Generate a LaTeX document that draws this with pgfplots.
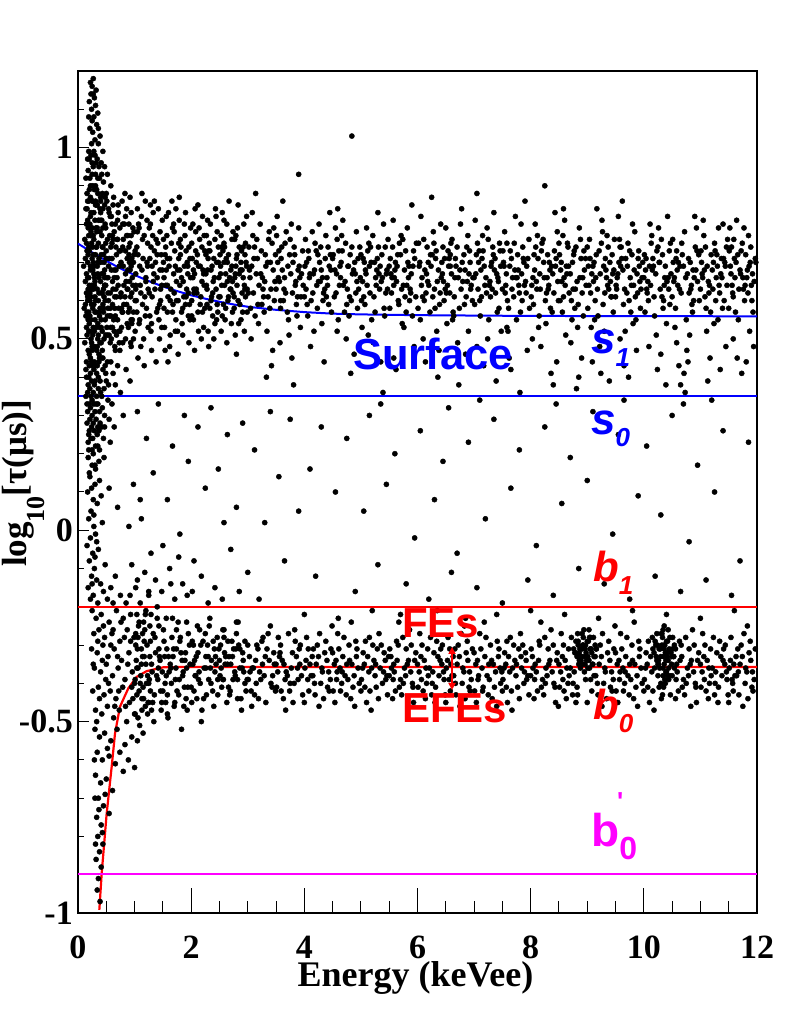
\documentclass[border=0pt]{standalone}
\usepackage{fontspec}
\setmainfont{Liberation Serif}
\newfontfamily\hv{Liberation Sans}
\usepackage{pgfplots}
\pgfplotsset{compat=1.18}
\usetikzlibrary{arrows.meta}
\definecolor{mag}{RGB}{255,0,255}
\definecolor{rootblue}{RGB}{0,0,255}
\definecolor{rootred}{RGB}{255,0,0}
\pgfplotsset{scat/.style={only marks, mark=*, mark size=2.6pt, color=black, mark options={draw=none, fill=black}}}
\begin{document}
\begin{tikzpicture}
\path[use as bounding box] (-78pt,-108pt) rectangle (711pt,913pt);
\begin{axis}[
  at={(0pt,0pt)}, anchor=south west,
  width=679pt, height=842pt, scale only axis,
  xmin=0, xmax=12, ymin=-1, ymax=1.2,
  axis line style={line width=1.1pt},
  tick pos=left, tick align=inside,
  xtick={0,2,4,6,8,10,12}, xticklabels={0,2,4,6,8,10,12},
  ytick={-1,-0.5,0,0.5,1}, yticklabels={-1,-0.5,0,0.5,1},
  minor xtick={0.5,1,1.5,2.5,3,3.5,4.5,5,5.5,6.5,7,7.5,8.5,9,9.5,10.5,11,11.5},
  minor ytick={-0.9,-0.8,-0.7,-0.6,-0.4,-0.3,-0.2,-0.1,0.1,0.2,0.3,0.4,0.6,0.7,0.8,0.9,1.1},
  major tick length=11pt, minor tick length=6.5pt,
  tick style={line width=1pt, black},
  x tick style={/pgfplots/major tick length=25pt, /pgfplots/minor tick length=12.5pt},
  ticklabel style={font=\fontsize{34}{34}\selectfont\bfseries},
  xticklabel style={anchor=base, yshift=-45pt},
  yticklabel style={anchor=east, inner sep=0pt, xshift=-5pt},
]
% low-energy column
\addplot[scat] table {
0.22 1.17
0.25 1.16
0.27 1.14
0.20 1.12
0.31 1.11
0.24 1.10
0.28 1.08
0.33 1.06
0.21 1.05
0.26 1.04
0.30 1.02
0.36 1.01
0.19 0.99
0.23 0.98
0.34 0.97
0.41 0.96
0.27 0.95
0.18 0.94
0.31 0.93
0.38 0.92
0.45 0.91
0.22 0.90
0.29 0.89
0.35 0.88
0.52 0.93
0.48 0.87
0.26 0.86
0.16 0.88
0.40 0.86
0.33 0.85
0.44 0.99
0.39 1.03
0.29 1.13
0.35 1.09
0.58 0.90
0.63 0.87
0.21 0.92
0.17 0.86
0.47 0.95
0.25 0.96
0.14 0.84
0.37 0.71
0.62 0.63
0.21 0.52
0.88 0.77
0.45 0.58
0.29 0.66
0.73 0.49
0.17 0.81
0.54 0.69
0.96 0.55
0.33 0.74
0.68 0.61
0.25 0.47
0.49 0.79
0.81 0.64
0.19 0.57
0.41 0.72
0.59 0.50
0.92 0.68
0.17 0.60
0.40 0.83
0.65 0.48
0.24 0.75
0.91 0.65
0.48 0.80
0.32 0.53
0.76 0.70
0.20 0.46
0.57 0.62
0.99 0.78
0.36 0.51
0.71 0.85
0.28 0.67
0.52 0.56
0.84 0.73
0.22 0.82
0.44 0.59
0.62 0.76
0.95 0.54
0.12 0.76
0.35 0.54
0.60 0.80
0.19 0.66
0.86 0.59
0.43 0.47
0.27 0.72
0.71 0.83
0.15 0.62
0.52 0.51
0.94 0.69
0.31 0.86
0.66 0.56
0.23 0.78
0.47 0.64
0.79 0.49
0.17 0.70
0.39 0.81
0.57 0.58
0.90 0.74
0.19 0.52
0.42 0.67
0.67 0.74
0.26 0.86
0.93 0.49
0.50 0.71
0.34 0.79
0.78 0.57
0.22 0.68
0.59 0.82
1.01 0.60
0.38 0.45
0.73 0.73
0.30 0.55
0.54 0.84
0.86 0.77
0.24 0.63
0.46 0.50
0.64 0.66
0.97 0.79
0.10 0.69
0.33 0.78
0.58 0.56
0.17 0.61
0.84 0.82
0.41 0.53
0.25 0.48
0.69 0.76
0.13 0.59
0.50 0.73
0.92 0.87
0.29 0.64
0.64 0.52
0.21 0.80
0.45 0.67
0.77 0.58
0.15 0.75
0.37 0.46
0.55 0.71
0.88 0.63
0.16 0.57
0.39 0.49
0.64 0.68
0.23 0.79
0.90 0.72
0.47 0.64
0.31 0.85
0.75 0.61
0.19 0.77
0.56 0.56
0.98 0.50
0.35 0.70
0.70 0.81
0.27 0.63
0.51 0.53
0.83 0.88
0.21 0.60
0.43 0.74
0.61 0.65
0.94 0.83
0.20 0.73
0.43 0.62
0.68 0.51
0.27 0.70
0.94 0.55
0.51 0.86
0.35 0.67
0.79 0.80
0.23 0.50
0.60 0.75
1.02 0.64
0.39 0.58
0.74 0.47
0.31 0.72
0.55 0.83
0.87 0.54
0.25 0.79
0.47 0.66
0.65 0.61
0.98 0.57
0.13 0.65
0.36 0.81
0.61 0.77
0.20 0.54
0.87 0.63
0.44 0.74
0.28 0.59
0.72 0.52
0.16 0.84
0.53 0.66
0.95 0.71
0.32 0.79
0.67 0.68
0.24 0.49
0.48 0.60
0.80 0.76
0.18 0.55
0.40 0.87
0.58 0.53
0.91 0.70
0.18 0.72
0.26 0.58
0.34 0.63
0.42 0.77
0.15 0.67
0.30 0.81
0.38 0.56
0.22 0.69
0.46 0.61
0.28 0.76
0.35 0.50
0.19 0.86
0.24 0.64
0.40 0.70
0.32 0.57
0.44 0.84
0.27 0.53
0.16 0.73
0.37 0.66
0.21 0.62
0.49 0.75
0.29 0.48
0.33 0.89
0.25 0.71
0.41 0.55
0.18 0.79
0.36 0.60
0.23 0.83
0.47 0.68
0.30 0.65
0.14 0.56
0.39 0.78
0.26 0.74
0.43 0.52
0.20 0.64
0.34 0.85
0.28 0.69
0.45 0.57
0.22 0.77
0.31 0.60
0.15 0.44
0.22 0.41
0.31 0.43
0.18 0.38
0.27 0.36
0.36 0.40
0.44 0.42
0.20 0.33
0.25 0.30
0.33 0.35
0.16 0.28
0.29 0.26
0.38 0.31
0.23 0.24
0.19 0.21
0.35 0.22
0.42 0.27
0.50 0.39
0.58 0.44
0.53 0.34
0.26 0.43
0.14 0.35
0.21 0.37
0.30 0.39
0.40 0.36
0.17 0.31
0.24 0.27
0.32 0.29
0.28 0.33
0.46 0.37
0.62 0.41
0.19 0.25
0.34 0.25
0.27 0.20
0.22 0.45
0.37 0.44
0.48 0.43
0.66 0.38
0.55 0.29
0.43 0.32
0.15 0.40
0.25 0.34
0.39 0.28
0.18 0.23
0.31 0.22
0.45 0.24
0.70 0.43
0.60 0.33
0.21 0.29
0.36 0.37
0.28 0.42
0.16 0.33
0.33 0.41
0.24 0.39
0.41 0.45
0.52 0.44
0.20 0.43
0.30 0.31
0.26 0.24
0.35 0.33
0.47 0.30
0.64 0.27
0.75 0.36
0.85 0.42
0.57 0.23
0.80 0.30
0.92 0.39
0.23 0.35
0.38 0.21
0.29 0.44
0.18 0.19
0.25 0.17
0.21 0.14
0.30 0.12
0.17 0.10
0.27 0.08
0.23 0.05
0.34 0.07
0.19 0.03
0.28 0.01
0.22 -0.02
0.31 -0.01
0.16 -0.04
0.26 -0.06
0.36 -0.05
0.20 -0.08
0.29 -0.10
0.24 -0.12
0.33 -0.13
0.18 -0.15
0.40 -0.14
0.27 -0.17
0.22 -0.18
0.35 -0.19
0.45 -0.16
0.52 -0.18
0.31 0.16
0.38 0.13
0.24 0.11
0.41 0.09
0.20 0.15
0.28 0.04
0.33 -0.03
0.43 0.02
0.48 -0.09
0.25 -0.14
0.58 -0.15
0.66 -0.12
0.62 -0.19
0.75 -0.17
0.85 -0.19
0.37 0.18
0.55 0.11
0.46 0.19
0.70 0.06
0.90 0.01
1.05 -0.13
1.25 -0.16
1.10 0.08
0.30 -0.07
0.25 -0.21
0.32 -0.23
0.41 -0.22
0.55 -0.24
0.68 -0.21
0.80 -0.23
0.93 -0.22
1.08 -0.24
1.20 -0.21
0.28 -0.27
0.37 -0.26
0.47 -0.28
0.60 -0.27
0.74 -0.29
0.87 -0.26
0.99 -0.28
1.14 -0.27
1.27 -0.25
0.24 -0.31
0.34 -0.32
0.44 -0.30
0.53 -0.33
0.64 -0.31
0.77 -0.34
0.90 -0.32
1.02 -0.30
1.17 -0.33
0.29 -0.36
0.40 -0.37
0.50 -0.35
0.61 -0.38
0.71 -0.36
0.83 -0.39
0.96 -0.37
1.10 -0.40
1.23 -0.38
0.26 -0.42
0.36 -0.41
0.46 -0.43
0.57 -0.42
0.67 -0.44
0.79 -0.41
0.91 -0.45
1.04 -0.43
1.19 -0.46
0.31 -0.47
0.42 -0.48
0.52 -0.46
0.63 -0.49
0.73 -0.47
0.86 -0.50
1.00 -0.48
1.13 -0.47
0.33 -0.50
0.45 -0.25
0.58 -0.30
0.70 -0.33
0.82 -0.28
0.95 -0.41
1.06 -0.36
1.28 -0.42
0.38 -0.44
0.49 -0.39
0.65 -0.46
0.76 -0.24
0.88 -0.35
0.97 -0.44
1.12 -0.31
1.25 -0.45
0.27 -0.35
0.35 -0.29
0.43 -0.34
0.54 -0.40
0.62 -0.26
0.72 -0.42
0.84 -0.46
0.93 -0.29
1.01 -0.39
1.16 -0.44
1.30 -0.35
0.30 -0.52
0.38 -0.54
0.47 -0.53
0.58 -0.55
0.69 -0.52
0.83 -0.56
0.95 -0.54
0.34 -0.58
0.43 -0.60
0.55 -0.59
0.66 -0.61
0.80 -0.63
1.00 -0.62
0.31 -0.64
0.40 -0.66
0.50 -0.65
0.61 -0.68
0.36 -0.70
0.45 -0.72
0.55 -0.74
0.33 -0.75
0.41 -0.77
0.35 -0.80
0.44 -0.82
0.38 -0.84
0.32 -0.86
0.41 -0.88
0.36 -0.91
0.34 -0.94
0.39 -0.97
0.30 -0.70
0.29 -0.60
0.52 -0.57
0.74 -0.58
0.89 -0.60
0.37 -0.73
0.48 -0.69
0.31 -0.82
0.43 -0.79
1.05 -0.55
};
% low-energy column, further events
\addplot[scat] table {
0.11 0.58
0.13 0.71
0.15 0.80
0.18 0.63
0.20 0.89
0.23 0.55
0.26 0.68
0.28 0.83
0.30 0.61
0.32 0.74
0.35 0.92
0.37 0.57
0.40 0.65
0.42 0.81
0.45 0.72
0.48 0.55
0.50 0.88
0.53 0.62
0.56 0.77
0.59 0.68
0.62 0.85
0.65 0.58
0.68 0.72
0.71 0.64
0.74 0.79
0.77 0.53
0.80 0.69
0.83 0.61
0.86 0.84
0.89 0.57
0.92 0.75
0.95 0.62
0.98 0.70
0.12 0.49
0.14 0.92
0.17 0.66
0.19 0.74
0.22 0.87
0.24 0.59
0.27 0.77
0.29 0.52
0.31 0.90
0.34 0.69
0.36 0.75
0.39 0.84
0.41 0.62
0.44 0.79
0.46 0.70
0.49 0.64
0.52 0.76
0.54 0.60
0.57 0.82
0.60 0.71
0.63 0.55
0.66 0.80
0.69 0.66
0.72 0.58
0.75 0.73
0.78 0.86
0.81 0.59
0.84 0.67
0.87 0.71
0.90 0.80
0.93 0.61
0.96 0.66
0.99 0.72
0.16 0.51
0.21 0.56
0.25 0.93
0.33 0.47
0.38 0.53
0.43 0.88
0.47 0.85
0.51 0.66
0.55 0.51
0.58 0.74
0.61 0.59
0.64 0.78
0.67 0.63
0.70 0.76
0.73 0.69
0.76 0.62
0.79 0.74
0.82 0.80
0.85 0.65
0.88 0.68
0.91 0.58
0.94 0.77
0.97 0.64
0.15 0.53
0.18 0.47
0.23 0.61
0.26 0.51
0.30 0.57
0.34 0.48
0.37 0.62
0.41 0.49
0.45 0.63
0.49 0.51
0.53 0.58
0.57 0.49
0.61 0.53
0.66 0.47
0.70 0.55
0.74 0.52
0.79 0.57
0.84 0.50
0.89 0.53
0.94 0.48
0.20 0.97
0.24 1.01
0.28 0.99
0.32 0.96
0.37 0.95
0.42 0.93
0.17 0.97
0.26 0.90
0.30 0.98
0.19 1.08
0.23 1.14
0.27 1.18
0.32 1.15
0.36 1.05
0.25 1.07
0.14 0.42
0.19 0.40
0.24 0.44
0.29 0.38
0.34 0.43
0.39 0.39
0.44 0.45
0.49 0.41
0.54 0.38
0.17 0.36
0.22 0.32
0.27 0.28
0.32 0.33
0.37 0.26
0.42 0.35
0.47 0.27
0.20 0.26
0.25 0.21
0.30 0.17
0.35 0.27
1.02 -0.27
1.08 -0.42
1.12 -0.35
1.17 -0.29
1.21 -0.40
1.27 -0.33
1.32 -0.45
1.36 -0.28
1.41 -0.39
1.44 -0.33
1.49 -0.37
1.52 -0.29
1.55 -0.45
1.60 -0.33
1.65 -0.40
1.69 -0.31
1.73 -0.36
1.78 -0.43
1.81 -0.28
1.85 -0.38
1.90 -0.32
1.94 -0.41
1.98 -0.35
2.02 -0.29
2.05 -0.42
2.09 -0.33
2.13 -0.39
2.17 -0.30
2.22 -0.44
2.26 -0.36
2.30 -0.33
2.35 -0.40
2.39 -0.29
2.42 -0.37
2.47 -0.43
2.52 -0.30
2.56 -0.39
2.60 -0.35
2.65 -0.29
2.69 -0.42
2.73 -0.33
2.78 -0.38
2.82 -0.44
2.86 -0.31
2.90 -0.36
2.95 -0.29
2.99 -0.39
1.06 -0.49
1.15 -0.53
1.23 -0.48
1.34 -0.50
1.47 -0.47
1.58 -0.48
1.71 -0.45
1.87 -0.46
1.04 -0.22
1.16 -0.24
1.29 -0.22
1.43 -0.25
1.56 -0.23
1.74 -0.26
1.92 -0.24
2.11 -0.25
2.33 -0.23
2.58 -0.26
2.80 -0.24
};
% upper band 1-3 keV
\addplot[scat] table {
1.02 0.63
1.17 0.77
1.09 0.55
1.22 0.70
1.05 0.84
1.14 0.59
1.20 0.66
1.11 0.48
1.01 0.73
1.18 0.61
1.07 0.80
1.24 0.53
1.13 0.68
1.04 0.57
1.19 0.86
1.10 0.64
1.23 0.75
1.06 0.45
1.15 0.71
1.02 0.67
1.21 0.58
1.08 0.79
1.16 0.50
1.03 0.60
1.12 0.82
1.24 0.63
1.06 0.72
1.19 0.56
1.09 0.69
1.14 0.76
1.01 0.52
1.22 0.81
1.11 0.62
1.17 0.43
1.05 0.78
1.20 0.65
1.08 0.54
1.13 0.88
1.23 0.69
1.04 0.74
1.27 0.71
1.41 0.58
1.33 0.83
1.48 0.64
1.29 0.52
1.38 0.76
1.45 0.68
1.31 0.61
1.26 0.79
1.43 0.55
1.35 0.73
1.49 0.81
1.30 0.47
1.40 0.66
1.46 0.60
1.28 0.85
1.37 0.70
1.44 0.50
1.32 0.77
1.47 0.72
1.26 0.62
1.39 0.57
1.34 0.67
1.42 0.84
1.29 0.74
1.48 0.53
1.36 0.63
1.45 0.78
1.31 0.69
1.27 0.56
1.41 0.75
1.38 0.44
1.33 0.65
1.49 0.68
1.28 0.80
1.44 0.59
1.35 0.86
1.46 0.63
1.40 0.72
1.30 0.54
1.52 0.66
1.67 0.79
1.58 0.57
1.72 0.69
1.55 0.74
1.63 0.51
1.70 0.62
1.60 0.83
1.51 0.70
1.68 0.59
1.57 0.77
1.74 0.65
1.62 0.48
1.54 0.72
1.69 0.80
1.59 0.61
1.73 0.55
1.56 0.68
1.65 0.75
1.52 0.58
1.71 0.73
1.58 0.64
1.66 0.86
1.53 0.53
1.62 0.71
1.74 0.60
1.56 0.82
1.69 0.67
1.59 0.44
1.64 0.63
1.51 0.76
1.72 0.52
1.61 0.69
1.67 0.57
1.55 0.64
1.70 0.78
1.58 0.71
1.63 0.60
1.73 0.84
1.54 0.47
1.77 0.60
1.91 0.73
1.83 0.66
1.98 0.55
1.79 0.81
1.88 0.69
1.95 0.62
1.81 0.76
1.76 0.52
1.93 0.70
1.85 0.58
1.99 0.79
1.80 0.64
1.90 0.83
1.96 0.49
1.78 0.71
1.87 0.61
1.94 0.67
1.82 0.74
1.97 0.59
1.76 0.68
1.89 0.77
1.84 0.54
1.92 0.63
1.79 0.87
1.98 0.71
1.86 0.65
1.95 0.56
1.81 0.72
1.77 0.46
1.91 0.61
1.88 0.80
1.83 0.57
1.99 0.66
1.78 0.75
1.94 0.69
1.85 0.51
1.96 0.74
1.90 0.59
1.80 0.68
2.02 0.71
2.16 0.59
2.08 0.78
2.23 0.64
2.04 0.55
2.13 0.69
2.20 0.82
2.10 0.62
2.01 0.75
2.18 0.50
2.06 0.67
2.24 0.73
2.12 0.57
2.03 0.80
2.19 0.65
2.09 0.70
2.22 0.53
2.05 0.63
2.15 0.76
2.01 0.60
2.21 0.68
2.07 0.84
2.17 0.61
2.03 0.66
2.11 0.72
2.24 0.58
2.06 0.47
2.19 0.74
2.09 0.63
2.14 0.79
2.01 0.56
2.22 0.67
2.12 0.85
2.16 0.69
2.05 0.62
2.20 0.57
2.08 0.73
2.13 0.52
2.23 0.77
2.04 0.68
2.27 0.64
2.42 0.76
2.33 0.58
2.48 0.70
2.29 0.81
2.38 0.62
2.45 0.55
2.31 0.73
2.26 0.67
2.43 0.84
2.35 0.60
2.49 0.66
2.30 0.52
2.40 0.71
2.46 0.78
2.28 0.59
2.37 0.69
2.44 0.63
2.32 0.75
2.47 0.57
2.26 0.72
2.39 0.65
2.34 0.80
2.42 0.54
2.29 0.68
2.48 0.74
2.36 0.61
2.45 0.70
2.31 0.48
2.27 0.77
2.41 0.66
2.38 0.56
2.33 0.73
2.49 0.61
2.28 0.63
2.44 0.82
2.35 0.68
2.46 0.59
2.40 0.50
2.30 0.71
2.52 0.69
2.66 0.61
2.58 0.75
2.73 0.57
2.54 0.64
2.63 0.80
2.70 0.68
2.60 0.55
2.51 0.72
2.68 0.66
2.57 0.59
2.74 0.78
2.62 0.71
2.53 0.52
2.69 0.63
2.59 0.74
2.72 0.69
2.55 0.83
2.65 0.60
2.52 0.67
2.71 0.54
2.58 0.70
2.64 0.65
2.53 0.77
2.61 0.58
2.74 0.62
2.56 0.73
2.67 0.86
2.59 0.64
2.63 0.49
2.51 0.61
2.72 0.76
2.61 0.67
2.66 0.72
2.55 0.56
2.70 0.63
2.58 0.81
2.64 0.70
2.73 0.65
2.54 0.74
2.77 0.66
2.92 0.74
2.83 0.60
2.98 0.69
2.79 0.77
2.88 0.55
2.95 0.63
2.81 0.72
2.76 0.58
2.93 0.80
2.85 0.67
2.99 0.57
2.80 0.71
2.90 0.62
2.96 0.75
2.78 0.51
2.87 0.68
2.94 0.64
2.82 0.79
2.97 0.70
2.76 0.61
2.89 0.73
2.84 0.54
2.92 0.66
2.79 0.69
2.98 0.82
2.86 0.59
2.95 0.72
2.81 0.64
2.77 0.76
2.91 0.57
2.88 0.70
2.83 0.85
2.99 0.63
2.78 0.67
2.94 0.52
2.85 0.74
2.96 0.61
2.90 0.68
2.80 0.46
};
% upper band 3-7.5 keV
\addplot[scat] table {
3.04 0.66
3.31 0.72
3.18 0.59
3.45 0.68
3.09 0.77
3.27 0.63
3.40 0.70
3.13 0.56
3.02 0.74
3.36 0.61
3.22 0.80
3.48 0.65
3.07 0.69
3.29 0.57
3.43 0.75
3.15 0.67
3.34 0.52
3.01 0.62
3.24 0.73
3.47 0.60
3.11 0.71
3.38 0.78
3.20 0.64
3.05 0.58
3.32 0.69
3.44 0.47
3.16 0.76
3.26 0.66
3.41 0.63
3.08 0.83
3.35 0.70
3.19 0.54
3.49 0.72
3.03 0.68
3.28 0.61
3.12 0.74
3.39 0.58
3.23 0.67
3.46 0.79
3.06 0.50
3.30 0.65
3.17 0.71
3.42 0.43
3.10 0.62
3.37 0.76
3.25 0.59
3.14 0.88
3.33 0.40
3.53 0.70
3.79 0.62
3.66 0.75
3.92 0.66
3.58 0.58
3.74 0.72
3.88 0.61
3.61 0.68
3.51 0.77
3.84 0.64
3.70 0.57
3.97 0.73
3.56 0.65
3.77 0.80
3.91 0.69
3.63 0.60
3.82 0.74
3.50 0.63
3.72 0.55
3.95 0.67
3.59 0.71
3.86 0.59
3.68 0.78
3.54 0.66
3.80 0.70
3.93 0.53
3.64 0.63
3.75 0.76
3.89 0.68
3.57 0.49
3.83 0.72
3.67 0.62
3.98 0.64
3.52 0.82
3.76 0.67
3.60 0.74
3.87 0.56
3.71 0.69
3.94 0.61
3.55 0.73
3.78 0.45
3.65 0.66
3.90 0.79
3.58 0.60
3.85 0.65
3.73 0.51
3.62 0.86
3.81 0.38
4.03 0.63
4.29 0.74
4.16 0.67
4.43 0.59
4.08 0.71
4.25 0.65
4.38 0.77
4.12 0.60
4.01 0.69
4.34 0.62
4.21 0.73
4.47 0.68
4.06 0.56
4.27 0.70
4.41 0.64
4.14 0.78
4.32 0.66
4.00 0.61
4.23 0.58
4.46 0.72
4.10 0.67
4.36 0.63
4.19 0.75
4.04 0.70
4.31 0.54
4.44 0.69
4.15 0.62
4.26 0.80
4.40 0.66
4.07 0.73
4.33 0.60
4.18 0.68
4.48 0.57
4.02 0.76
4.28 0.65
4.11 0.48
4.37 0.71
4.22 0.64
4.45 0.83
4.05 0.59
4.30 0.68
4.17 0.52
4.42 0.74
4.09 0.66
4.35 0.44
4.24 0.72
3.90 0.93
4.39 0.61
4.54 0.68
4.80 0.61
4.67 0.73
4.93 0.65
4.58 0.76
4.75 0.59
4.89 0.70
4.62 0.64
4.51 0.72
4.85 0.67
4.71 0.57
4.98 0.74
4.56 0.62
4.78 0.69
4.92 0.78
4.64 0.66
4.83 0.60
4.50 0.71
4.73 0.75
4.96 0.63
4.60 0.55
4.87 0.68
4.69 0.64
4.55 0.79
4.81 0.72
4.94 0.58
4.65 0.70
4.76 0.63
4.90 0.67
4.58 0.52
4.84 0.74
4.68 0.81
4.99 0.66
4.53 0.61
4.77 0.69
4.61 0.73
4.88 0.46
4.72 0.65
4.95 0.71
4.57 0.67
4.79 0.56
4.66 0.77
4.91 0.62
4.59 0.84
4.84 1.03
4.74 0.50
4.63 0.69
4.82 0.41
5.03 0.65
5.29 0.71
5.16 0.62
5.43 0.74
5.08 0.68
5.25 0.57
5.38 0.66
5.12 0.73
5.01 0.60
5.34 0.69
5.21 0.77
5.47 0.63
5.06 0.70
5.27 0.64
5.41 0.58
5.14 0.75
5.32 0.67
5.00 0.72
5.23 0.61
5.46 0.68
5.10 0.79
5.36 0.65
5.19 0.55
5.04 0.71
5.31 0.74
5.44 0.62
5.15 0.69
5.26 0.66
5.40 0.80
5.07 0.59
5.33 0.63
5.18 0.70
5.48 0.76
5.02 0.53
5.28 0.68
5.11 0.64
5.37 0.72
5.22 0.49
5.45 0.67
5.05 0.61
5.30 0.83
5.17 0.74
5.42 0.56
5.09 0.67
5.35 0.44
5.24 0.70
5.13 0.51
5.39 0.36
5.53 0.67
5.79 0.73
5.66 0.60
5.92 0.69
5.58 0.64
5.74 0.76
5.88 0.62
5.61 0.70
5.51 0.58
5.84 0.66
5.70 0.72
5.97 0.61
5.56 0.74
5.77 0.68
5.91 0.56
5.63 0.65
5.82 0.79
5.50 0.69
5.72 0.63
5.95 0.71
5.59 0.66
5.86 0.60
5.68 0.75
5.54 0.62
5.80 0.57
5.93 0.73
5.64 0.69
5.75 0.64
5.89 0.67
5.57 0.81
5.83 0.70
5.67 0.59
5.98 0.75
5.52 0.71
5.76 0.53
5.60 0.68
5.87 0.63
5.71 0.77
5.94 0.48
5.55 0.66
5.78 0.61
5.65 0.72
5.90 0.85
5.58 0.45
5.85 0.69
5.73 0.54
5.62 0.42
5.81 0.64
6.04 0.70
6.30 0.63
6.17 0.74
6.44 0.67
6.09 0.61
6.26 0.72
6.39 0.59
6.13 0.68
6.02 0.75
6.35 0.65
6.22 0.57
6.48 0.71
6.07 0.64
6.28 0.78
6.42 0.66
6.15 0.62
6.33 0.73
6.01 0.58
6.24 0.69
6.47 0.60
6.11 0.76
6.37 0.68
6.20 0.64
6.05 0.55
6.32 0.71
6.45 0.74
6.16 0.67
6.27 0.61
6.41 0.80
6.08 0.66
6.34 0.52
6.19 0.70
6.49 0.63
6.03 0.69
6.29 0.75
6.12 0.60
6.38 0.47
6.23 0.72
6.46 0.65
6.06 0.82
6.31 0.58
6.18 0.65
6.43 0.70
6.10 0.50
6.36 0.40
6.25 0.87
6.14 0.44
6.40 0.62
6.53 0.64
6.79 0.70
6.66 0.66
6.92 0.73
6.58 0.69
6.74 0.58
6.88 0.65
6.61 0.76
6.51 0.62
6.84 0.68
6.70 0.74
6.97 0.60
6.56 0.71
6.77 0.63
6.91 0.67
6.63 0.57
6.82 0.72
6.50 0.79
6.72 0.66
6.95 0.64
6.59 0.75
6.86 0.61
6.68 0.69
6.54 0.73
6.80 0.65
6.93 0.70
6.64 0.56
6.75 0.68
6.89 0.77
6.57 0.62
6.83 0.59
6.67 0.71
6.98 0.66
6.52 0.54
6.76 0.80
6.60 0.67
6.87 0.74
6.71 0.49
6.94 0.63
6.55 0.69
6.78 0.84
6.65 0.61
6.90 0.52
6.58 0.72
6.85 0.46
6.73 0.38
6.62 0.55
7.05 0.88
7.03 0.67
7.29 0.61
7.16 0.73
7.43 0.65
7.08 0.70
7.25 0.76
7.38 0.62
7.12 0.68
7.01 0.59
7.34 0.72
7.21 0.66
7.47 0.69
7.06 0.75
7.27 0.64
7.41 0.57
7.14 0.71
7.32 0.63
7.00 0.66
7.23 0.79
7.46 0.73
7.10 0.60
7.36 0.68
7.19 0.64
7.04 0.72
7.31 0.70
7.44 0.58
7.15 0.77
7.26 0.55
7.40 0.67
7.07 0.63
7.33 0.74
7.18 0.69
7.48 0.52
7.02 0.81
7.28 0.65
7.11 0.56
7.37 0.71
7.22 0.62
7.45 0.75
7.05 0.48
7.30 0.69
7.17 0.43
7.42 0.66
7.09 0.73
7.35 0.83
7.24 0.50
7.13 0.61
7.39 0.39
};
% upper band 7.5-12 keV
\addplot[scat] table {
7.53 0.69
7.79 0.64
7.66 0.71
7.92 0.62
7.58 0.75
7.74 0.66
7.88 0.70
7.61 0.58
7.51 0.73
7.84 0.67
7.70 0.61
7.97 0.76
7.56 0.64
7.77 0.72
7.91 0.65
7.63 0.69
7.82 0.57
7.50 0.63
7.72 0.68
7.95 0.71
7.59 0.60
7.86 0.74
7.68 0.66
7.54 0.78
7.80 0.62
7.93 0.69
7.64 0.73
7.75 0.55
7.89 0.64
7.57 0.67
7.83 0.80
7.67 0.63
7.98 0.58
7.52 0.70
7.76 0.66
7.60 0.52
7.87 0.71
7.71 0.75
7.94 0.47
7.55 0.62
7.78 0.68
7.65 0.42
7.90 0.86
7.58 0.53
7.85 0.60
7.73 0.82
7.62 0.45
7.81 0.36
8.04 0.66
8.30 0.72
8.17 0.63
8.44 0.69
8.09 0.74
8.26 0.60
8.39 0.67
8.13 0.71
8.02 0.64
8.35 0.58
8.22 0.76
8.48 0.65
8.07 0.68
8.28 0.62
8.42 0.73
8.15 0.56
8.33 0.70
8.01 0.61
8.24 0.66
8.47 0.78
8.11 0.63
8.37 0.69
8.20 0.75
8.05 0.59
8.32 0.64
8.45 0.71
8.16 0.67
8.27 0.54
8.41 0.62
8.08 0.80
8.34 0.68
8.19 0.73
8.49 0.60
8.03 0.50
8.29 0.66
8.12 0.77
8.38 0.57
8.23 0.70
8.46 0.44
8.06 0.72
8.31 0.63
8.18 0.48
8.43 0.83
8.10 0.65
8.36 0.41
8.25 0.90
8.14 0.53
8.40 0.38
8.53 0.68
8.79 0.63
8.66 0.74
8.92 0.66
8.58 0.61
8.74 0.70
8.88 0.76
8.61 0.64
8.51 0.72
8.84 0.59
8.70 0.67
8.97 0.71
8.56 0.57
8.77 0.73
8.91 0.62
8.63 0.69
8.82 0.65
8.50 0.75
8.72 0.60
8.95 0.68
8.59 0.66
8.86 0.79
8.68 0.62
8.54 0.70
8.80 0.74
8.93 0.56
8.64 0.67
8.75 0.63
8.89 0.71
8.57 0.77
8.83 0.53
8.67 0.69
8.98 0.64
8.52 0.60
8.76 0.72
8.60 0.81
8.87 0.66
8.71 0.49
8.94 0.73
8.55 0.65
8.78 0.58
8.65 0.75
8.90 0.45
8.58 0.84
8.85 0.40
8.73 0.55
8.62 0.51
8.81 0.37
9.03 0.64
9.29 0.69
9.16 0.72
9.43 0.61
9.08 0.67
9.25 0.75
9.38 0.63
9.12 0.70
9.01 0.58
9.34 0.66
9.21 0.73
9.47 0.68
9.06 0.62
9.27 0.78
9.41 0.65
9.14 0.60
9.32 0.71
9.00 0.74
9.23 0.67
9.46 0.57
9.10 0.69
9.36 0.64
9.19 0.56
9.04 0.76
9.31 0.62
9.44 0.72
9.15 0.66
9.26 0.81
9.40 0.70
9.07 0.53
9.33 0.68
9.18 0.63
9.48 0.76
9.02 0.69
9.28 0.59
9.11 0.65
9.37 0.74
9.22 0.48
9.45 0.67
9.05 0.71
9.30 0.52
9.17 0.84
9.42 0.61
9.09 0.44
9.35 0.77
9.24 0.41
9.13 0.55
9.39 0.39
9.53 0.66
9.79 0.72
9.66 0.63
9.92 0.69
9.58 0.74
9.74 0.60
9.88 0.67
9.61 0.71
9.51 0.64
9.84 0.78
9.70 0.62
9.97 0.66
9.56 0.70
9.77 0.57
9.91 0.73
9.63 0.68
9.82 0.64
9.50 0.61
9.72 0.75
9.95 0.63
9.59 0.69
9.86 0.55
9.68 0.71
9.54 0.67
9.80 0.80
9.93 0.65
9.64 0.59
9.75 0.73
9.89 0.62
9.57 0.76
9.83 0.68
9.67 0.52
9.98 0.70
9.52 0.63
9.76 0.66
9.60 0.74
9.87 0.47
9.71 0.69
9.94 0.58
9.55 0.82
9.78 0.64
9.65 0.43
9.90 0.71
9.58 0.50
9.85 0.61
9.73 0.40
9.62 0.86
9.81 0.54
10.03 0.68
10.29 0.63
10.16 0.71
10.43 0.66
10.08 0.60
10.25 0.74
10.38 0.69
10.12 0.64
10.01 0.72
10.34 0.58
10.21 0.67
10.47 0.75
10.06 0.62
10.27 0.70
10.41 0.65
10.14 0.77
10.32 0.61
10.00 0.66
10.23 0.73
10.46 0.59
10.10 0.69
10.36 0.64
10.19 0.56
10.04 0.71
10.31 0.76
10.44 0.63
10.15 0.68
10.26 0.79
10.40 0.54
10.07 0.65
10.33 0.72
10.18 0.61
10.48 0.67
10.02 0.57
10.28 0.70
10.11 0.80
10.37 0.66
10.22 0.51
10.45 0.73
10.05 0.63
10.30 0.46
10.17 0.69
10.42 0.82
10.09 0.48
10.35 0.60
10.24 0.42
10.13 0.75
10.39 0.38
10.53 0.65
10.79 0.71
10.66 0.62
10.92 0.68
10.58 0.73
10.74 0.66
10.88 0.60
10.61 0.70
10.51 0.76
10.84 0.64
10.70 0.69
10.97 0.72
10.56 0.58
10.77 0.67
10.91 0.74
10.63 0.63
10.82 0.70
10.50 0.61
10.72 0.78
10.95 0.65
10.59 0.68
10.86 0.57
10.68 0.72
10.54 0.66
10.80 0.62
10.93 0.79
10.64 0.69
10.75 0.55
10.89 0.66
10.57 0.71
10.83 0.63
10.67 0.75
10.98 0.60
10.52 0.70
10.76 0.47
10.60 0.64
10.87 0.68
10.71 0.41
10.94 0.73
10.55 0.53
10.78 0.44
10.65 0.38
10.90 0.82
10.58 0.49
10.85 0.59
10.73 0.36
10.62 0.43
10.81 0.51
11.03 0.67
11.29 0.72
11.16 0.64
11.43 0.70
11.08 0.61
11.25 0.75
11.38 0.66
11.12 0.69
11.01 0.73
11.34 0.62
11.21 0.68
11.47 0.64
11.06 0.77
11.27 0.60
11.41 0.71
11.14 0.65
11.32 0.79
11.00 0.63
11.23 0.70
11.46 0.74
11.10 0.58
11.36 0.67
11.19 0.72
11.04 0.66
11.31 0.55
11.44 0.69
11.15 0.62
11.26 0.73
11.40 0.80
11.07 0.68
11.33 0.64
11.18 0.57
11.48 0.76
11.02 0.70
11.28 0.66
11.11 0.52
11.37 0.71
11.22 0.63
11.45 0.48
11.05 0.81
11.30 0.69
11.17 0.45
11.42 0.60
11.09 0.74
11.35 0.42
11.24 0.54
11.13 0.39
11.39 0.58
11.53 0.69
11.79 0.64
11.66 0.72
11.92 0.67
11.58 0.61
11.74 0.75
11.88 0.70
11.61 0.66
11.51 0.73
11.84 0.62
11.70 0.68
11.97 0.71
11.56 0.64
11.77 0.79
11.91 0.60
11.63 0.70
11.82 0.66
11.50 0.58
11.72 0.73
11.95 0.65
11.59 0.76
11.86 0.69
11.68 0.63
11.54 0.67
11.80 0.72
11.93 0.57
11.64 0.81
11.75 0.66
11.89 0.74
11.57 0.62
11.83 0.68
11.67 0.55
11.98 0.70
11.52 0.79
11.76 0.63
11.60 0.71
11.87 0.52
11.71 0.67
11.94 0.48
11.55 0.74
11.78 0.60
11.65 0.45
11.90 0.64
11.58 0.50
11.85 0.77
11.73 0.41
11.62 0.57
11.81 0.44
};
% bulk band 1-6.5 keV
\addplot[scat] table {
1.03 -0.34
1.28 -0.29
1.15 -0.41
1.42 -0.36
1.07 -0.25
1.24 -0.45
1.37 -0.32
1.11 -0.38
1.01 -0.48
1.33 -0.27
1.20 -0.35
1.46 -0.42
1.05 -0.31
1.26 -0.39
1.40 -0.23
1.13 -0.44
1.31 -0.37
1.00 -0.40
1.22 -0.30
1.45 -0.34
1.09 -0.51
1.35 -0.43
1.18 -0.26
1.04 -0.36
1.30 -0.47
1.43 -0.31
1.14 -0.33
1.25 -0.40
1.39 -0.38
1.06 -0.28
1.48 -0.45
1.19 -0.22
1.53 -0.33
1.79 -0.39
1.66 -0.28
1.92 -0.36
1.58 -0.43
1.74 -0.31
1.88 -0.41
1.61 -0.37
1.51 -0.26
1.84 -0.34
1.70 -0.46
1.97 -0.30
1.56 -0.38
1.77 -0.24
1.91 -0.44
1.63 -0.35
1.82 -0.32
1.50 -0.42
1.72 -0.39
1.95 -0.27
1.59 -0.49
1.86 -0.37
1.68 -0.33
1.54 -0.40
1.80 -0.29
1.93 -0.47
1.64 -0.36
1.75 -0.42
1.89 -0.34
1.57 -0.31
1.83 -0.52
1.67 -0.23
2.03 -0.35
2.29 -0.30
2.16 -0.40
2.43 -0.33
2.08 -0.38
2.25 -0.27
2.38 -0.42
2.12 -0.32
2.01 -0.45
2.34 -0.36
2.21 -0.29
2.47 -0.39
2.06 -0.34
2.27 -0.43
2.41 -0.31
2.14 -0.37
2.32 -0.25
2.00 -0.41
2.23 -0.36
2.46 -0.28
2.10 -0.44
2.36 -0.34
2.19 -0.47
2.04 -0.30
2.31 -0.39
2.44 -0.35
2.15 -0.26
2.26 -0.33
2.40 -0.46
2.07 -0.38
2.49 -0.31
2.18 -0.50
2.53 -0.36
2.79 -0.31
2.66 -0.41
2.92 -0.34
2.58 -0.28
2.74 -0.39
2.88 -0.44
2.61 -0.33
2.51 -0.38
2.84 -0.30
2.70 -0.35
2.97 -0.42
2.56 -0.26
2.77 -0.37
2.91 -0.32
2.63 -0.45
2.82 -0.39
2.50 -0.34
2.72 -0.29
2.95 -0.40
2.59 -0.32
2.86 -0.36
2.68 -0.43
2.54 -0.41
2.80 -0.27
2.93 -0.37
2.64 -0.35
2.75 -0.31
2.89 -0.47
2.57 -0.39
2.83 -0.24
2.67 -0.33
3.03 -0.33
3.29 -0.38
3.16 -0.30
3.43 -0.41
3.08 -0.36
3.25 -0.29
3.38 -0.34
3.12 -0.43
3.01 -0.39
3.34 -0.31
3.21 -0.37
3.47 -0.35
3.06 -0.42
3.27 -0.28
3.41 -0.40
3.14 -0.34
3.32 -0.45
3.00 -0.30
3.23 -0.39
3.46 -0.32
3.10 -0.36
3.36 -0.27
3.19 -0.44
3.04 -0.37
3.31 -0.33
3.44 -0.38
3.15 -0.40
3.26 -0.35
3.40 -0.25
3.07 -0.46
3.49 -0.42
3.18 -0.31
3.53 -0.37
3.79 -0.32
3.66 -0.39
3.92 -0.35
3.58 -0.30
3.74 -0.42
3.88 -0.36
3.61 -0.34
3.51 -0.41
3.84 -0.29
3.70 -0.38
3.97 -0.43
3.56 -0.33
3.77 -0.36
3.91 -0.31
3.63 -0.44
3.82 -0.40
3.50 -0.35
3.72 -0.27
3.95 -0.38
3.59 -0.42
3.86 -0.33
3.68 -0.37
3.54 -0.28
3.80 -0.45
3.93 -0.30
3.64 -0.35
3.75 -0.40
3.89 -0.39
3.57 -0.32
3.83 -0.26
3.67 -0.47
4.03 -0.34
4.29 -0.40
4.16 -0.31
4.43 -0.37
4.08 -0.42
4.25 -0.33
4.38 -0.29
4.12 -0.38
4.01 -0.36
4.34 -0.44
4.21 -0.35
4.47 -0.31
4.06 -0.39
4.27 -0.27
4.41 -0.41
4.14 -0.33
4.32 -0.37
4.00 -0.45
4.23 -0.30
4.46 -0.39
4.10 -0.35
4.36 -0.32
4.19 -0.43
4.04 -0.28
4.31 -0.36
4.44 -0.42
4.15 -0.38
4.26 -0.46
4.40 -0.34
4.07 -0.31
4.49 -0.25
4.18 -0.40
4.53 -0.35
4.79 -0.30
4.66 -0.40
4.92 -0.33
4.58 -0.37
4.74 -0.43
4.88 -0.38
4.61 -0.31
4.51 -0.42
4.84 -0.35
4.70 -0.28
4.97 -0.40
4.56 -0.34
4.77 -0.39
4.91 -0.29
4.63 -0.36
4.82 -0.44
4.50 -0.32
4.72 -0.38
4.95 -0.36
4.59 -0.27
4.86 -0.41
4.68 -0.33
4.54 -0.45
4.80 -0.34
4.93 -0.31
4.64 -0.42
4.75 -0.35
4.89 -0.46
4.57 -0.39
4.83 -0.24
4.67 -0.37
5.03 -0.36
5.29 -0.31
5.16 -0.42
5.43 -0.34
5.08 -0.29
5.25 -0.38
5.38 -0.40
5.12 -0.33
5.01 -0.39
5.34 -0.36
5.21 -0.30
5.47 -0.43
5.06 -0.35
5.27 -0.41
5.41 -0.32
5.14 -0.37
5.32 -0.27
5.00 -0.42
5.23 -0.34
5.46 -0.38
5.10 -0.45
5.36 -0.30
5.19 -0.36
5.04 -0.32
5.31 -0.44
5.44 -0.39
5.15 -0.28
5.26 -0.35
5.40 -0.37
5.07 -0.41
5.49 -0.33
5.18 -0.47
5.53 -0.33
5.79 -0.38
5.66 -0.30
5.92 -0.41
5.58 -0.35
5.74 -0.28
5.88 -0.37
5.61 -0.42
5.51 -0.31
5.84 -0.34
5.70 -0.39
5.97 -0.32
5.56 -0.44
5.77 -0.36
5.91 -0.40
5.63 -0.29
5.82 -0.35
5.50 -0.38
5.72 -0.43
5.95 -0.34
5.59 -0.37
5.86 -0.26
5.68 -0.41
5.54 -0.36
5.80 -0.31
5.93 -0.45
5.64 -0.34
5.75 -0.40
5.89 -0.30
5.57 -0.39
5.83 -0.46
5.67 -0.24
6.03 -0.37
6.29 -0.32
6.16 -0.40
6.43 -0.35
6.08 -0.30
6.25 -0.43
6.38 -0.38
6.12 -0.34
6.01 -0.41
6.34 -0.29
6.21 -0.36
6.47 -0.39
6.06 -0.33
6.27 -0.37
6.41 -0.31
6.14 -0.44
6.32 -0.41
6.00 -0.35
6.23 -0.28
6.46 -0.37
6.10 -0.42
6.36 -0.33
6.19 -0.38
6.04 -0.27
6.31 -0.45
6.44 -0.30
6.15 -0.36
6.26 -0.40
6.40 -0.34
6.07 -0.39
6.49 -0.43
6.18 -0.31
};
% bulk band 6.5-12 keV
\addplot[scat] table {
6.53 -0.34
6.79 -0.40
6.66 -0.31
6.92 -0.37
6.58 -0.42
6.74 -0.33
6.88 -0.29
6.61 -0.38
6.51 -0.36
6.84 -0.44
6.70 -0.35
6.97 -0.31
6.56 -0.39
6.77 -0.27
6.91 -0.41
6.63 -0.33
6.82 -0.37
6.50 -0.45
6.72 -0.30
6.95 -0.39
6.59 -0.35
6.86 -0.32
6.68 -0.43
6.54 -0.28
6.80 -0.36
6.93 -0.42
6.64 -0.38
6.75 -0.46
6.89 -0.34
6.57 -0.31
6.83 -0.25
6.67 -0.40
7.03 -0.35
7.29 -0.30
7.16 -0.41
7.43 -0.33
7.08 -0.38
7.25 -0.43
7.38 -0.37
7.12 -0.31
7.01 -0.42
7.34 -0.35
7.21 -0.28
7.47 -0.40
7.06 -0.34
7.27 -0.39
7.41 -0.29
7.14 -0.36
7.32 -0.44
7.00 -0.32
7.23 -0.38
7.46 -0.36
7.10 -0.27
7.36 -0.41
7.19 -0.33
7.04 -0.45
7.31 -0.34
7.44 -0.31
7.15 -0.42
7.26 -0.35
7.40 -0.46
7.07 -0.39
7.49 -0.37
7.18 -0.24
7.53 -0.36
7.79 -0.31
7.66 -0.42
7.92 -0.34
7.58 -0.29
7.74 -0.38
7.88 -0.40
7.61 -0.33
7.51 -0.39
7.84 -0.36
7.70 -0.30
7.97 -0.43
7.56 -0.35
7.77 -0.41
7.91 -0.32
7.63 -0.37
7.82 -0.27
7.50 -0.42
7.72 -0.34
7.95 -0.38
7.59 -0.45
7.86 -0.30
7.68 -0.36
7.54 -0.32
7.80 -0.44
7.93 -0.39
7.64 -0.28
7.75 -0.35
7.89 -0.37
7.57 -0.41
7.83 -0.33
7.67 -0.47
8.03 -0.33
8.29 -0.38
8.16 -0.30
8.43 -0.41
8.08 -0.35
8.25 -0.28
8.38 -0.37
8.12 -0.42
8.01 -0.31
8.34 -0.34
8.21 -0.39
8.47 -0.32
8.06 -0.44
8.27 -0.36
8.41 -0.40
8.15 -0.29
8.32 -0.35
8.00 -0.38
8.23 -0.43
8.46 -0.34
8.10 -0.37
8.36 -0.26
8.19 -0.41
8.04 -0.36
8.31 -0.31
8.44 -0.45
8.14 -0.34
8.26 -0.40
8.40 -0.30
8.07 -0.39
8.49 -0.46
8.18 -0.24
8.53 -0.37
8.79 -0.32
8.66 -0.40
8.92 -0.35
8.58 -0.30
8.74 -0.43
8.88 -0.33
8.61 -0.34
8.51 -0.41
8.84 -0.29
8.70 -0.36
8.97 -0.39
8.56 -0.33
8.77 -0.37
8.91 -0.31
8.63 -0.44
8.82 -0.41
8.50 -0.35
8.72 -0.28
8.95 -0.37
8.59 -0.42
8.86 -0.32
8.68 -0.38
8.54 -0.27
8.80 -0.45
8.93 -0.30
8.64 -0.36
8.75 -0.40
8.89 -0.34
8.57 -0.39
8.83 -0.43
8.67 -0.31
9.03 -0.34
9.29 -0.40
9.16 -0.31
9.43 -0.37
9.08 -0.42
9.25 -0.33
9.38 -0.29
9.12 -0.38
9.01 -0.36
9.34 -0.44
9.21 -0.35
9.47 -0.31
9.06 -0.39
9.27 -0.27
9.41 -0.41
9.14 -0.33
9.32 -0.37
9.00 -0.45
9.23 -0.30
9.46 -0.39
9.10 -0.35
9.36 -0.32
9.19 -0.43
9.04 -0.28
9.31 -0.36
9.44 -0.42
9.15 -0.38
9.26 -0.46
9.40 -0.34
9.07 -0.31
9.49 -0.25
9.18 -0.40
9.53 -0.35
9.79 -0.30
9.66 -0.40
9.92 -0.33
9.58 -0.37
9.74 -0.43
9.88 -0.38
9.61 -0.31
9.51 -0.42
9.84 -0.35
9.70 -0.28
9.97 -0.40
9.56 -0.34
9.77 -0.39
9.91 -0.29
9.63 -0.36
9.82 -0.44
9.50 -0.32
9.72 -0.38
9.95 -0.36
9.59 -0.27
9.86 -0.41
9.68 -0.33
9.54 -0.45
9.80 -0.34
9.93 -0.31
9.64 -0.42
9.75 -0.35
9.89 -0.46
9.57 -0.39
9.83 -0.24
9.67 -0.37
10.03 -0.36
10.29 -0.31
10.16 -0.42
10.43 -0.34
10.08 -0.29
10.25 -0.38
10.38 -0.40
10.12 -0.33
10.01 -0.39
10.34 -0.36
10.21 -0.30
10.47 -0.43
10.06 -0.35
10.27 -0.41
10.41 -0.32
10.14 -0.37
10.32 -0.27
10.00 -0.42
10.23 -0.34
10.46 -0.38
10.10 -0.45
10.36 -0.30
10.19 -0.36
10.04 -0.32
10.31 -0.44
10.44 -0.39
10.15 -0.28
10.26 -0.35
10.40 -0.37
10.07 -0.41
10.49 -0.33
10.18 -0.47
10.53 -0.33
10.79 -0.38
10.66 -0.30
10.92 -0.41
10.58 -0.35
10.74 -0.28
10.88 -0.37
10.61 -0.42
10.51 -0.31
10.84 -0.34
10.70 -0.39
10.97 -0.32
10.56 -0.44
10.77 -0.36
10.91 -0.40
10.63 -0.29
10.82 -0.35
10.50 -0.38
10.72 -0.43
10.95 -0.34
10.59 -0.37
10.86 -0.26
10.68 -0.41
10.54 -0.36
10.80 -0.31
10.93 -0.45
10.64 -0.34
10.75 -0.40
10.89 -0.30
10.57 -0.39
10.83 -0.46
10.67 -0.33
11.03 -0.37
11.29 -0.32
11.16 -0.40
11.43 -0.35
11.08 -0.30
11.25 -0.43
11.38 -0.38
11.12 -0.34
11.01 -0.41
11.34 -0.29
11.21 -0.36
11.47 -0.39
11.06 -0.33
11.27 -0.37
11.41 -0.31
11.14 -0.44
11.32 -0.41
11.00 -0.35
11.23 -0.28
11.46 -0.37
11.10 -0.42
11.36 -0.33
11.19 -0.38
11.04 -0.27
11.31 -0.45
11.44 -0.30
11.15 -0.36
11.26 -0.40
11.40 -0.34
11.07 -0.39
11.49 -0.43
11.18 -0.31
11.53 -0.34
11.79 -0.40
11.66 -0.31
11.92 -0.37
11.58 -0.42
11.74 -0.33
11.88 -0.29
11.61 -0.38
11.51 -0.36
11.84 -0.44
11.70 -0.35
11.97 -0.31
11.56 -0.39
11.77 -0.27
11.91 -0.41
11.63 -0.33
11.82 -0.37
11.50 -0.45
11.72 -0.30
11.95 -0.39
11.59 -0.35
11.86 -0.32
11.68 -0.43
11.54 -0.28
11.80 -0.36
11.93 -0.42
11.64 -0.38
11.75 -0.46
11.89 -0.34
11.57 -0.40
11.83 -0.25
11.67 -0.37
};
% X-ray peaks and sparse middle region
\addplot[scat] table {
8.96 -0.31
8.84 -0.30
9.08 -0.32
8.90 -0.33
9.02 -0.29
8.78 -0.32
9.14 -0.30
8.93 -0.28
8.99 -0.34
8.80 -0.29
9.12 -0.33
8.87 -0.31
9.05 -0.31
8.86 -0.34
9.06 -0.28
8.76 -0.31
9.16 -0.31
8.96 -0.35
8.91 -0.27
9.01 -0.33
8.83 -0.27
9.09 -0.35
8.88 -0.36
9.03 -0.26
8.82 -0.33
9.11 -0.28
8.97 -0.30
8.94 -0.26
9.04 -0.36
8.85 -0.35
8.98 -0.32
8.92 -0.30
9.00 -0.29
8.95 -0.33
10.36 -0.31
10.24 -0.30
10.48 -0.32
10.30 -0.33
10.42 -0.29
10.18 -0.32
10.54 -0.30
10.33 -0.28
10.39 -0.34
10.20 -0.29
10.52 -0.33
10.27 -0.31
10.45 -0.31
10.26 -0.34
10.46 -0.28
10.16 -0.31
10.56 -0.31
10.36 -0.35
10.31 -0.27
10.41 -0.33
10.23 -0.27
10.49 -0.35
10.28 -0.36
10.43 -0.26
10.22 -0.33
10.51 -0.28
10.37 -0.30
10.34 -0.26
10.44 -0.36
10.25 -0.35
10.38 -0.32
10.32 -0.30
10.40 -0.29
10.35 -0.33
10.37 -0.39
10.35 -0.41
10.39 -0.37
10.33 -0.43
10.36 -0.25
10.42 -0.38
10.30 -0.40
10.34 -0.38
1.05 0.31
1.42 0.33
1.88 0.30
2.35 0.32
2.91 0.28
3.40 0.31
1.21 0.24
1.67 0.22
2.12 0.27
2.64 0.25
3.75 0.29
1.95 0.18
1.33 0.15
2.48 0.16
3.12 0.21
0.98 0.12
1.58 0.08
2.25 0.11
2.80 0.06
3.55 0.14
1.12 0.03
1.80 -0.01
2.58 0.02
3.90 0.05
1.29 -0.06
1.50 -0.04
2.05 -0.08
2.70 -0.05
0.95 -0.09
1.18 -0.11
1.37 -0.13
1.62 -0.10
1.85 -0.14
2.18 -0.12
2.42 -0.15
1.02 -0.15
1.25 -0.17
1.48 -0.16
1.71 -0.18
1.93 -0.17
2.30 -0.19
2.55 -0.18
2.85 -0.16
3.20 -0.18
1.10 -0.19
1.40 -0.20
1.64 -0.14
0.92 -0.17
1.78 -0.07
2.02 -0.16
4.30 0.27
4.75 0.24
5.15 0.30
5.60 0.20
6.05 0.26
6.45 0.18
6.90 0.23
7.35 0.29
7.80 0.21
8.25 0.27
8.70 0.19
9.10 0.31
9.55 0.25
10.05 0.22
10.50 0.30
10.95 0.17
11.40 0.26
11.85 0.23
4.55 0.10
5.05 0.05
5.45 0.12
5.95 -0.02
6.30 0.08
6.70 -0.06
7.20 0.03
7.65 0.11
8.10 -0.04
8.55 0.07
9.00 0.13
9.45 -0.01
9.90 0.09
10.30 0.04
10.80 -0.03
11.25 0.10
11.70 -0.08
4.20 -0.12
4.90 -0.16
5.30 -0.09
5.80 -0.14
6.20 -0.18
6.60 -0.11
7.05 -0.15
7.50 -0.19
7.95 -0.13
8.40 -0.17
8.85 -0.10
9.30 -0.14
9.75 -0.18
10.20 -0.12
10.65 -0.16
11.10 -0.13
11.55 -0.17
4.00 -0.22
4.60 -0.23
5.20 -0.21
5.70 -0.22
6.35 -0.21
6.85 -0.23
7.40 -0.22
8.00 -0.21
8.60 -0.22
9.20 -0.23
9.80 -0.21
10.40 -0.22
11.00 -0.23
11.60 -0.21
3.30 0.02
3.65 -0.08
3.00 -0.11
4.10 0.16
5.35 0.33
6.55 0.32
7.10 0.34
8.45 0.33
9.65 0.34
10.70 0.33
11.20 0.34
};
% cut lines
\addplot[no markers, sharp plot, rootblue, line width=2pt] coordinates {(0,0.35) (12,0.35)};
\addplot[no markers, sharp plot, rootblue, line width=2pt] coordinates {
(0,0.749) (0.25,0.726) (0.5,0.704) (0.75,0.684) (1,0.667) (1.25,0.651) (1.5,0.637)
(1.75,0.625) (2,0.614) (2.25,0.605) (2.5,0.597) (2.75,0.590) (3,0.584) (3.5,0.576)
(4,0.570) (4.5,0.566) (5,0.564) (6,0.562) (7,0.561) (8,0.560) (12,0.559)};
\addplot[no markers, sharp plot, rootred, line width=2.2pt] coordinates {(0,-0.2) (12,-0.2)};
\addplot[no markers, sharp plot, rootred, line width=2.2pt] coordinates {
(0.377,-0.992) (0.419,-0.896) (0.507,-0.740) (0.595,-0.618) (0.654,-0.531) (0.742,-0.461)
(0.889,-0.413) (1.037,-0.383) (1.214,-0.368) (1.508,-0.358) (2,-0.357) (12,-0.357)};
\addplot[no markers, sharp plot, mag, line width=1.8pt] coordinates {(0,-0.898) (12,-0.898)};
\end{axis}
% axis titles
\node[anchor=base, inner sep=0pt, font=\fontsize{36}{36}\selectfont\bfseries] at (337.5pt,-73pt) {Energy (keVee)};
\node[anchor=base, rotate=90, inner sep=0pt, font=\fontsize{35}{35}\selectfont\bfseries] at (-51pt,429.5pt)
  {log\raisebox{-18pt}{\fontsize{26}{26}\selectfont 10}[τ(μs)]};
% annotations
\node[anchor=base west, inner sep=0pt, text=rootblue, font=\fontsize{43.5}{43.5}\selectfont\hv\bfseries] at (275pt,543pt) {Surface};
\node[anchor=base west, inner sep=0pt, text=rootblue, font=\fontsize{44}{44}\selectfont\hv\bfseries\itshape] at (513pt,559pt) {s\raisebox{-13pt}{\fontsize{26}{26}\selectfont 1}};
\node[anchor=base west, inner sep=0pt, text=rootblue, font=\fontsize{44}{44}\selectfont\hv\bfseries\itshape] at (513pt,478pt) {s\raisebox{-12pt}{\fontsize{26}{26}\selectfont 0}};
\node[anchor=base west, inner sep=0pt, text=rootred, font=\fontsize{42}{42}\selectfont\hv\bfseries\itshape] at (515pt,331pt) {b\raisebox{-13pt}{\fontsize{26}{26}\selectfont 1}};
\node[anchor=base west, inner sep=0pt, text=rootred, font=\fontsize{42}{42}\selectfont\hv\bfseries\itshape] at (515pt,193pt) {b\raisebox{-13pt}{\fontsize{26}{26}\selectfont 0}};
\node[anchor=base west, inner sep=0pt, text=rootred, font=\fontsize{42}{42}\selectfont\hv\bfseries] at (324pt,275pt) {FEs};
\node[anchor=base west, inner sep=0pt, text=rootred, font=\fontsize{42}{42}\selectfont\hv\bfseries] at (324pt,190pt) {EFEs};
\node[anchor=base west, inner sep=0pt, text=mag, font=\fontsize{46}{46}\selectfont\hv\bfseries] at (513pt,66pt) {b\raisebox{-13pt}{\fontsize{32}{32}\selectfont 0}};
\node[anchor=north west, inner sep=0pt, text=mag, font=\fontsize{26}{26}\selectfont\hv\bfseries] at (539pt,121pt) {\textquotesingle};
\draw[rootred, line width=2pt, {Triangle[length=7pt,width=7pt]}-{Triangle[length=7pt,width=7pt]}] (374pt,266pt) -- (374pt,223pt);
\end{tikzpicture}
\end{document}
